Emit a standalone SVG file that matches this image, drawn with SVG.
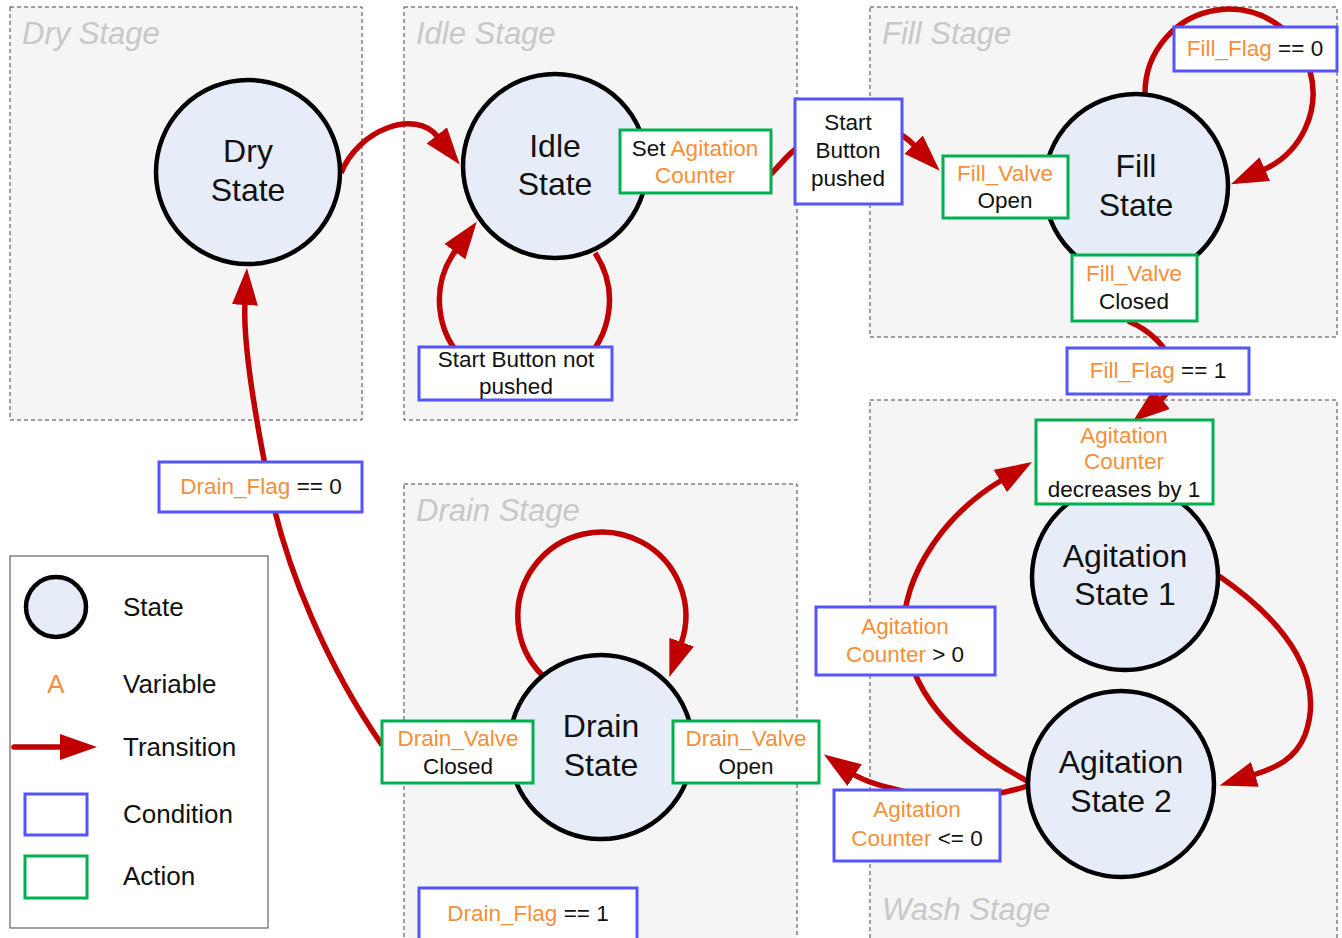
<svg xmlns="http://www.w3.org/2000/svg" width="1342" height="938" viewBox="0 0 1342 938">
<defs>
<style>
.stage{fill:#f5f5f5;stroke:#444;stroke-width:1;stroke-dasharray:4,3}
.stitle{font-family:"Liberation Sans",Arial,sans-serif;font-style:italic;font-size:31px;fill:#c8c8c8}
.state{fill:#e6edf8;stroke:#000;stroke-width:4.5}
.stxt{font-family:"Liberation Sans",Arial,sans-serif;font-size:32px;fill:#111;text-anchor:middle}
.cond{fill:#fff;stroke:#5555ff;stroke-width:3}
.act{fill:#fff;stroke:#00b050;stroke-width:3}
.btxt{font-family:"Liberation Sans",Arial,sans-serif;font-size:22.5px;fill:#111;text-anchor:middle}
.conn{fill:none;stroke:#c00000;stroke-width:5.5;marker-end:url(#arr)}
.ltxt{font-family:"Liberation Sans",Arial,sans-serif;font-size:26px;fill:#111}
.v{fill:#f5903a}
</style>
<marker id="arr" markerUnits="userSpaceOnUse" markerWidth="40" markerHeight="28" viewBox="0 0 40 28" refX="2" refY="13" orient="auto">
<path d="M0,0 L37,13 L0,26 z" fill="#c00000"/>
</marker>
</defs>
<rect width="1342" height="938" fill="#fff"/>

<g id="stages">
<rect class="stage" x="10" y="7" width="352" height="413"/>
<text class="stitle" x="22" y="44">Dry Stage</text>
<rect class="stage" x="404" y="7" width="393" height="413"/>
<text class="stitle" x="416" y="44">Idle Stage</text>
<rect class="stage" x="870" y="7" width="467" height="330"/>
<text class="stitle" x="882" y="44">Fill Stage</text>
<rect class="stage" x="404" y="484" width="393" height="460"/>
<text class="stitle" x="416" y="521">Drain Stage</text>
<rect class="stage" x="870" y="400" width="467" height="544"/>
<text class="stitle" x="882" y="920">Wash Stage</text>
</g>

<g id="connectors">
<path class="conn" d="M341,173 C358,130 415,108 438,137"/>
<path class="conn" d="M595,253 A85,85 0 1 1 456,250"/>
<path class="conn" d="M760,184 C776,172 786,154 800,146 L895,132 C902,134 908,139 915,146"/>
<path class="conn" d="M1145,93 A84,84 0 1 1 1263,170"/>
<path class="conn" d="M1128,321 C1150,330 1168,348 1172,365 C1175,380 1170,392 1160,400"/>
<path class="conn" d="M1219,576 C1290,625 1325,680 1305,735 C1295,760 1275,768 1253,775"/>
<path class="conn" d="M1029,782 C960,745 915,700 905,640 C897,590 935,520 1002,480"/>
<path class="conn" d="M1030,785 C990,800 930,800 890,788 C875,784 862,780 853,774"/>
<path class="conn" d="M542,675 A84,84 0 1 1 681,644"/>
<path class="conn" d="M382,745 C330,670 285,570 268,480 C252,400 243,340 245,303"/>
</g>

<g id="dry-state"><circle class="state" cx="248" cy="172" r="92"/><text class="stxt" x="248" y="162">Dry</text><text class="stxt" x="248" y="201">State</text></g>
<g id="idle-state"><circle class="state" cx="555" cy="166" r="92"/><text class="stxt" x="555" y="157">Idle</text><text class="stxt" x="555" y="195">State</text></g>
<g id="fill-state"><circle class="state" cx="1136" cy="186" r="92"/><text class="stxt" x="1136" y="177">Fill</text><text class="stxt" x="1136" y="216">State</text></g>
<g id="agitation-state-1"><circle class="state" cx="1125" cy="577" r="93"/><text class="stxt" x="1125" y="567">Agitation</text><text class="stxt" x="1125" y="605">State 1</text></g>
<g id="agitation-state-2"><circle class="state" cx="1121" cy="784" r="93"/><text class="stxt" x="1121" y="773">Agitation</text><text class="stxt" x="1121" y="812">State 2</text></g>
<g id="drain-state"><circle class="state" cx="601" cy="747" r="92"/><text class="stxt" x="601" y="737">Drain</text><text class="stxt" x="601" y="776">State</text></g>

<g id="set-agitation-counter"><rect class="act" x="620" y="130" width="151" height="63"/><text class="btxt" x="695" y="156">Set <tspan class="v">Agitation</tspan></text><text class="btxt v" x="695" y="183">Counter</text></g>
<g id="start-button-pushed"><rect class="cond" x="795" y="99" width="107" height="105"/><text class="btxt" x="848" y="130">Start</text><text class="btxt" x="848" y="158">Button</text><text class="btxt" x="848" y="186">pushed</text></g>
<g id="start-button-not-pushed"><rect class="cond" x="419" y="347" width="193" height="53"/><text class="btxt" x="516" y="367">Start Button not</text><text class="btxt" x="516" y="394">pushed</text></g>
<g id="fill-valve-open"><rect class="act" x="943" y="156" width="125" height="62"/><text class="btxt v" x="1005" y="181">Fill_Valve</text><text class="btxt" x="1005" y="208">Open</text></g>
<g id="fill-flag-0"><rect class="cond" x="1174" y="27" width="163" height="44"/><text class="btxt" x="1255" y="56"><tspan class="v">Fill_Flag</tspan> == 0</text></g>
<g id="fill-valve-closed"><rect class="act" x="1072" y="255" width="125" height="66"/><text class="btxt v" x="1134" y="281">Fill_Valve</text><text class="btxt" x="1134" y="309">Closed</text></g>
<g id="fill-flag-1"><rect class="cond" x="1067" y="348" width="182" height="46"/><text class="btxt" x="1158" y="378"><tspan class="v">Fill_Flag</tspan> == 1</text></g>
<g id="agitation-decrease"><rect class="act" x="1036" y="420" width="177" height="84"/><text class="btxt v" x="1124" y="443">Agitation</text><text class="btxt v" x="1124" y="469">Counter</text><text class="btxt" x="1124" y="497">decreases by 1</text></g>
<g id="agitation-counter-gt-0"><rect class="cond" x="816" y="607" width="179" height="68"/><text class="btxt v" x="905" y="634">Agitation</text><text class="btxt" x="905" y="662"><tspan class="v">Counter</tspan> &gt; 0</text></g>
<g id="agitation-counter-le-0"><rect class="cond" x="834" y="790" width="166" height="71"/><text class="btxt v" x="917" y="817">Agitation</text><text class="btxt" x="917" y="846"><tspan class="v">Counter</tspan> &lt;= 0</text></g>
<g id="drain-valve-open"><rect class="act" x="673" y="721" width="146" height="62"/><text class="btxt v" x="746" y="746">Drain_Valve</text><text class="btxt" x="746" y="774">Open</text></g>
<g id="drain-valve-closed"><rect class="act" x="382" y="721" width="151" height="62"/><text class="btxt v" x="458" y="746">Drain_Valve</text><text class="btxt" x="458" y="774">Closed</text></g>
<g id="drain-flag-1"><rect class="cond" x="419" y="888" width="218" height="54"/><text class="btxt" x="528" y="921"><tspan class="v">Drain_Flag</tspan> == 1</text></g>
<g id="drain-flag-0"><rect class="cond" x="159" y="462" width="203" height="50"/><text class="btxt" x="261" y="494"><tspan class="v">Drain_Flag</tspan> == 0</text></g>

<g id="legend">
<rect x="10" y="556" width="258" height="372" fill="#fff" stroke="#444" stroke-width="1"/>
<circle class="state" cx="56" cy="607" r="30"/>
<text class="ltxt" x="123" y="616">State</text>
<text class="ltxt v" x="56" y="693" text-anchor="middle">A</text>
<text class="ltxt" x="123" y="693">Variable</text>
<path class="conn" d="M14,747 L62,747" stroke-linecap="round"/>
<text class="ltxt" x="123" y="756">Transition</text>
<rect class="cond" x="25" y="794" width="62" height="41"/>
<text class="ltxt" x="123" y="823">Condition</text>
<rect class="act" x="25" y="856" width="62" height="42"/>
<text class="ltxt" x="123" y="885">Action</text>
</g>
</svg>
